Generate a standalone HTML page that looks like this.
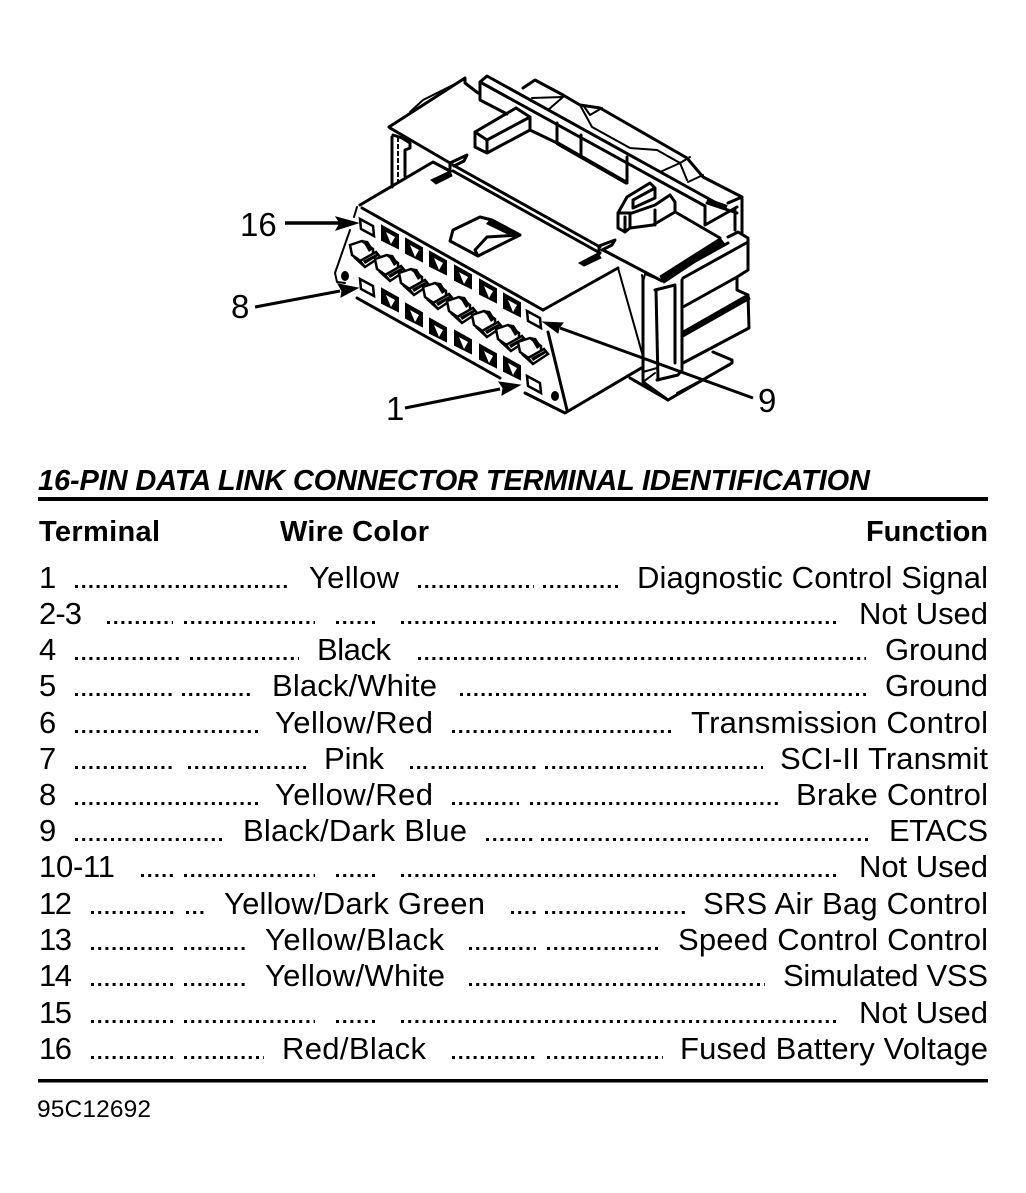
<!DOCTYPE html>
<html><head><meta charset="utf-8"><style>
html,body{margin:0;padding:0;background:#fff;width:1026px;height:1193px;overflow:hidden}
svg{display:block}
text{font-family:"Liberation Sans",sans-serif;fill:#000}
.r{font-size:31px}
.b{font-size:29px;font-weight:bold}
.d{fill:none;stroke:#000;stroke-width:3;stroke-dasharray:3 4.2}
.l{fill:none;stroke:#000;stroke-width:2;stroke-linejoin:round;stroke-linecap:round}
.t{fill:none;stroke:#000;stroke-width:3;stroke-linejoin:round;stroke-linecap:round}
.k{fill:#000;stroke:#000;stroke-width:1}
</style></head><body>
<svg width="1026" height="1193" viewBox="0 0 1026 1193" xmlns="http://www.w3.org/2000/svg">
<defs>
<g id="sq"><path d="M-8,-11 L8,-2 V11 L-8,3 Z" fill="#000" stroke="#000" stroke-width="2"/><path d="M-4,-5 L5,0 L1,7 Z" fill="#fff"/></g>
<g id="wh"><path d="M-7,-8 L6,-1 L7,9 L-6,2 Z" fill="#fff" stroke="#000" stroke-width="2.5"/></g>
<g id="pin"><path d="M-10,-6 L2,-10 L13,-2 L13,6 L2,11 L-8,4 Z" fill="#fff" stroke="#000" stroke-width="2.5"/><path d="M2,-11 L8,-10 L13,-2 L9,1 Z" fill="#000"/><path d="M0,10 L16,1 L20,6 L5,16 Z" fill="#fff" stroke="#000" stroke-width="2.5"/><path d="M3,10 L16,3 L18,5 L5,13 Z" fill="#000"/><path d="M-6,6 L5,16" stroke="#000" stroke-width="2.5"/></g>
</defs>

<!-- back housing -->
<path class="t" d="M389,127 L465,78 L465,83 L478,93"/>
<path class="l" d="M410,112 L423,100 L463,80"/>
<path class="t" d="M390,128 L450,163"/>
<path class="t" d="M453,165 L600,247 M453,171 L600,253 M603,250 L662,281"/>
<path class="t" d="M392,137 V187 M393,135 L402,138 L410,143 V148 L405,150 V176"/>
<path d="M398,137 V186" stroke="#000" stroke-width="2" stroke-dasharray="5 2"/>
<!-- rail -->
<path class="t" d="M480,82 L487,76 L720,205 M480,82 V100 L507,114 M480,82 L705,206 V225 L737,207 M707,203 L737,213 M735,210 V230"/>
<path d="M707,200 L727,207" stroke="#000" stroke-width="4"/>
<path class="t" d="M523,88 L535,80 L563,95 L580,105 L600,108 L687,158 L703,177 L742,197 V233 M728,203 L742,197"/>
<path class="l" d="M532,98 L563,97 L548,110 M583,105 L590,115 L602,108 M580,105 L592,127 L630,148 L657,150 L680,163 L687,180 M660,172 L680,163 L690,157 M688,182 L703,175"/>
<path class="t" d="M530,117 V130 L557,143 M557,123 V143 M581,135 V157 M627,157 V183"/>
<path d="M557,143 L627,183" stroke="#000" stroke-width="4" fill="none"/>
<!-- peg -->
<path class="t" d="M516,108 L475,132 V147 L487,153 L530,130 V117 L516,108 M475,132 L487,140 L530,117 M487,140 V153" fill="#fff"/>
<!-- clip -->
<path class="t" d="M618,213 L627,197 L650,183 L655,188 V198 L633,208 V200 L655,188 M618,213 V228 L625,232 L630,228 L653,225 L675,212 V202 L670,195 L655,205 L632,213 L618,213 M625,217 V232 M630,214 V228 M655,210 V225"/>
<path class="t" d="M677,213 L720,238"/>
<!-- front upper face -->
<path class="t" d="M360,205 L433,162 L450,171"/>
<path class="t" d="M362,208 L543,310"/>
<path class="t" d="M543,310 L618,268"/>
<path class="l" d="M357,207 L354,217"/>
<!-- slots -->
<path d="M431,180 L450,171 L452,176 L436,184 Z" class="k"/>
<path class="t" d="M450,172 V163 L467,155 L464,161 L454,166"/>
<path d="M579,263 L598,253 L601,258 L584,266 Z" class="k"/>
<path class="t" d="M599,254 V246 L615,240 L612,245 L602,250"/>
<!-- latch -->
<path class="t" d="M478,256 L450,241 L453,230 L480,217 L492,220 L520,235 L478,256 L475,250 L487,237 L520,235"/>
<path d="M490,219 L521,234 L515,238 L486,224 Z" fill="#000"/>
<!-- lower face -->
<path class="l" d="M350,230 L335,273 L337,282 L345,283"/>
<path class="t" d="M357,298 L500,378"/>
<path class="t" d="M525,393 L565,413 L643,367"/>
<path class="t" d="M548,332 L567,410"/>
<path class="l" d="M618,268 L644,360"/>
<ellipse cx="345" cy="276" rx="4" ry="5" fill="#000"/>
<ellipse cx="555" cy="396" rx="4" ry="5" fill="#000"/>
<use href="#wh" x="367" y="227"/>
<use href="#sq" x="390" y="237"/><use href="#sq" x="414" y="250"/><use href="#sq" x="438" y="263"/><use href="#sq" x="463" y="277"/><use href="#sq" x="488" y="291"/><use href="#sq" x="512" y="305"/>
<use href="#wh" x="534" y="319"/>
<use href="#wh" x="367" y="287"/>
<use href="#sq" x="390" y="300"/><use href="#sq" x="414" y="315"/><use href="#sq" x="438" y="330"/><use href="#sq" x="463" y="342"/><use href="#sq" x="488" y="356"/><use href="#sq" x="512" y="368"/>
<use href="#wh" x="534" y="384"/>
<use href="#pin" x="360" y="251"/><use href="#pin" x="385" y="265"/><use href="#pin" x="409" y="279"/><use href="#pin" x="433" y="293"/><use href="#pin" x="457" y="307"/><use href="#pin" x="482" y="321"/><use href="#pin" x="506" y="335"/><use href="#pin" x="528" y="348"/>

<!-- right end -->
<path class="t" d="M643,280 V380 M656,290 L658,380 M675,287 V363 M682,280 V368 M655,290 L675,285"/>
<path class="l" d="M642,275 L643,282 L645,274 L660,280"/>
<path d="M660,276 L720,238 L724,243 L664,283 Z" class="k"/>
<path class="t" d="M672,274 L728,243 M683,278 L748,242"/>
<path class="t" d="M728,237 L738,232 L748,238 V270 L737,277 V290 L748,295 L749,328 L683,363"/>
<path class="t" d="M683,307 L737,277"/>
<path d="M683,331 L748,294 L750,299 L683,337 Z" class="k"/>
<path class="t" d="M630,378 L668,400 L732,363 V360 L713,352"/>
<path class="l" d="M677,393 L730,365 M643,372 L657,368 M643,382 L655,373"/>
<path class="t" d="M643,382 L668,400"/>
<path class="t" d="M657,380 L678,375 L682,370"/>

<!-- arrows -->
<path d="M285,223 H340" stroke="#000" stroke-width="3.5"/><path d="M358,223 L336,217 L340,223 L336,230 Z" class="k"/>
<path d="M255,307 L340,291" stroke="#000" stroke-width="3"/><path d="M358,288 L338,284 L342,291 L341,297 Z" class="k"/>
<path d="M405,408 L500,389" stroke="#000" stroke-width="3"/><path d="M520,385 L499,382 L503,388 L502,395 Z" class="k"/>
<path d="M753,398 L560,328" stroke="#000" stroke-width="3"/><path d="M543,322 L563,323 L559,328 L558,333 Z" class="k"/>
<text x="240" y="236" font-size="33">16</text>
<text x="231" y="318" font-size="33">8</text>
<text x="386" y="420" font-size="33">1</text>
<text x="758" y="412" font-size="33">9</text>

<!-- title -->
<text x="38" y="490" class="b" font-style="italic" textLength="832">16-PIN DATA LINK CONNECTOR TERMINAL IDENTIFICATION</text>
<rect x="38" y="497" width="950" height="4"/>
<text x="39" y="541" class="b" textLength="121">Terminal</text>
<text x="280" y="541" class="b" textLength="149">Wire Color</text>
<text x="866" y="541" class="b" textLength="122">Function</text>

<!-- rows -->
<text x="39" y="588" class="r">1</text><text x="309" y="588" class="r" textLength="90">Yellow</text><text x="637" y="588" class="r" textLength="351">Diagnostic Control Signal</text>
<path class="d" d="M75,586.5H289M418,586.5H534M543,586.5H620"/>
<text x="39" y="624" class="r" textLength="43">2-3</text><text x="859" y="624" class="r" textLength="129">Not Used</text>
<path class="d" d="M107,622.5H173M184,622.5H315M336,622.5H375M401,622.5H839"/>
<text x="39" y="660" class="r">4</text><text x="317" y="660" class="r" textLength="74">Black</text><text x="885" y="660" class="r" textLength="103">Ground</text>
<path class="d" d="M75,658.5H179M190,658.5H299M418,658.5H866"/>
<text x="39" y="696" class="r">5</text><text x="272" y="696" class="r" textLength="165">Black/White</text><text x="885" y="696" class="r" textLength="103">Ground</text>
<path class="d" d="M75,694.5H175M182,694.5H254M460,694.5H866"/>
<text x="39" y="733" class="r">6</text><text x="275" y="733" class="r" textLength="158">Yellow/Red</text><text x="691" y="733" class="r" textLength="297">Transmission Control</text>
<path class="d" d="M75,731.5H258M452,731.5H673"/>
<text x="39" y="769" class="r">7</text><text x="324" y="769" class="r" textLength="60">Pink</text><text x="780" y="769" class="r" textLength="208">SCI-II Transmit</text>
<path class="d" d="M75,767.5H173M188,767.5H306M410,767.5H536M545,767.5H763"/>
<text x="39" y="805" class="r">8</text><text x="275" y="805" class="r" textLength="158">Yellow/Red</text><text x="796" y="805" class="r" textLength="192">Brake Control</text>
<path class="d" d="M75,803.5H258M452,803.5H519M530,803.5H778"/>
<text x="39" y="841" class="r">9</text><text x="243" y="841" class="r" textLength="224">Black/Dark Blue</text><text x="889" y="841" class="r" textLength="99">ETACS</text>
<path class="d" d="M75,839.5H225M486,839.5H533M541,839.5H870"/>
<text x="39" y="877" class="r" textLength="76">10-11</text><text x="859" y="877" class="r" textLength="129">Not Used</text>
<path class="d" d="M141,875.5H173M184,875.5H315M336,875.5H375M401,875.5H839"/>
<text x="39" y="914" class="r" textLength="33">12</text><text x="224" y="914" class="r" textLength="261">Yellow/Dark Green</text><text x="703" y="914" class="r" textLength="285">SRS Air Bag Control</text>
<path class="d" d="M91,912.5H175M186,912.5H206M511,912.5H536M545,912.5H685"/>
<text x="39" y="950" class="r" textLength="33">13</text><text x="265" y="950" class="r" textLength="179">Yellow/Black</text><text x="678" y="950" class="r" textLength="310">Speed Control Control</text>
<path class="d" d="M91,948.5H173M184,948.5H247M469,948.5H536M547,948.5H661"/>
<text x="39" y="986" class="r" textLength="33">14</text><text x="265" y="986" class="r" textLength="180">Yellow/White</text><text x="783" y="986" class="r" textLength="205">Simulated VSS</text>
<path class="d" d="M91,984.5H173M184,984.5H247M469,984.5H765"/>
<text x="39" y="1023" class="r" textLength="33">15</text><text x="859" y="1023" class="r" textLength="129">Not Used</text>
<path class="d" d="M91,1021.5H173M184,1021.5H315M336,1021.5H375M401,1021.5H839"/>
<text x="39" y="1059" class="r" textLength="33">16</text><text x="282" y="1059" class="r" textLength="144">Red/Black</text><text x="680" y="1059" class="r" textLength="308">Fused Battery Voltage</text>
<path class="d" d="M91,1057.5H173M184,1057.5H264M452,1057.5H536M547,1057.5H663"/>

<rect x="38" y="1079" width="950" height="3.5"/>
<text x="37" y="1117" font-size="24.5" textLength="114">95C12692</text>
</svg>
</body></html>
